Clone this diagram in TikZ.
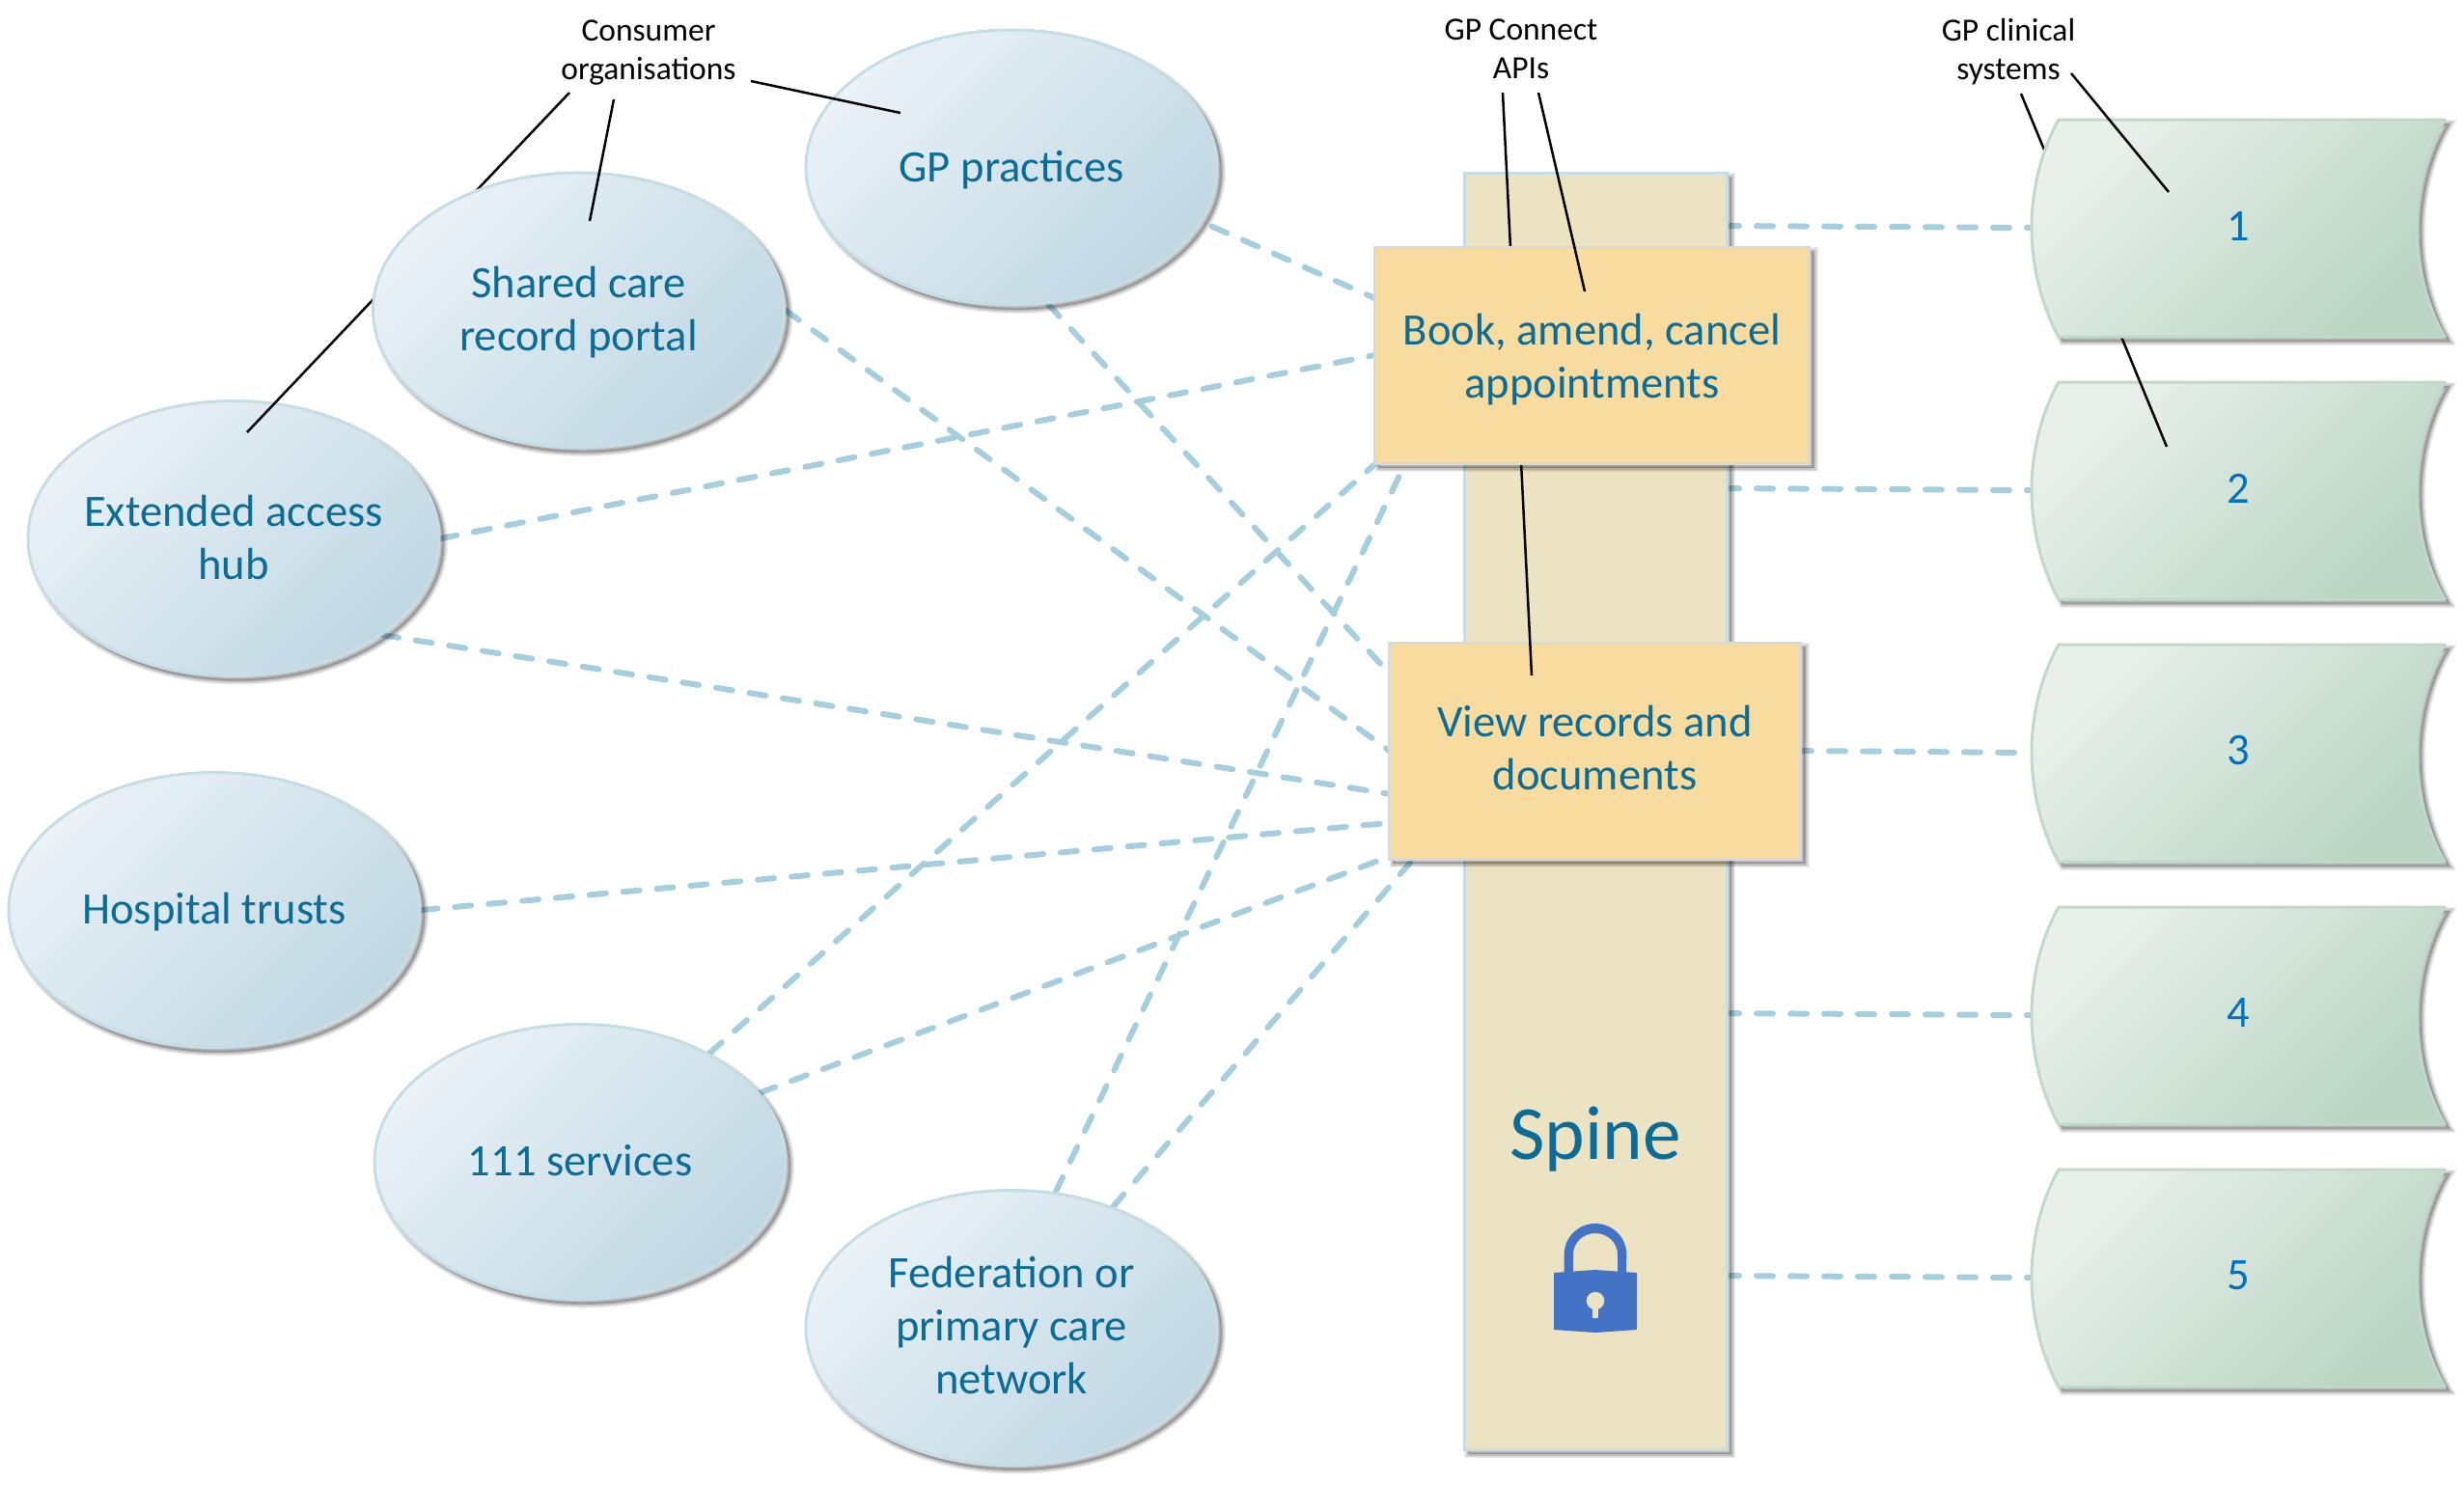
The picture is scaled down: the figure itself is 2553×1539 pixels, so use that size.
\documentclass[tikz,border=0pt]{standalone}
\usepackage{fontspec}
\setmainfont{Carlito}
\usetikzlibrary{shapes.geometric,shadows,backgrounds,calc}
\definecolor{txt}{HTML}{0B6C97}
\definecolor{numc}{HTML}{0070C0}
\definecolor{dashc}{HTML}{A5CFDF}
\definecolor{elL}{HTML}{EAF1F7}
\definecolor{elD}{HTML}{C0D8E3}
\definecolor{elS}{HTML}{C6DDE6}
\definecolor{stL}{HTML}{E9F0EB}
\definecolor{stD}{HTML}{BAD5C4}
\definecolor{stS}{HTML}{C0D9CA}
\definecolor{spF}{HTML}{EBE3C1}
\definecolor{apF}{HTML}{F8DB9F}
\definecolor{apS}{HTML}{D9D9D9}
\definecolor{lockc}{HTML}{4472C4}
\tikzset{
  softshadow/.style={
    general shadow={draw=black,line width=4.6pt,opacity=.06,shadow xshift=2.3pt,shadow yshift=-2.3pt},
    general shadow={draw=black,line width=3.4pt,opacity=.09,shadow xshift=2.3pt,shadow yshift=-2.3pt},
    general shadow={draw=black,line width=2.1pt,opacity=.11,shadow xshift=2.3pt,shadow yshift=-2.3pt},
    general shadow={draw=black,line width=.8pt,fill=black,opacity=.14,shadow xshift=2.3pt,shadow yshift=-2.3pt}},
  orgnode/.style={ellipse,softshadow,draw=elS,line width=1.5pt,top color=elL,bottom color=elD,shading angle=45,
    minimum width=213pt,minimum height=142.5pt,inner sep=0pt,text=txt,
    font=\fontsize{23.3}{27.5}\selectfont},
  apibox/.style={rectangle,softshadow,draw=apS,fill=apF,line width=1.5pt,inner sep=0pt,text=txt,
    font=\fontsize{23.3}{27.5}\selectfont},
  spinebox/.style={rectangle,softshadow,draw=elS,fill=spF,line width=1.5pt,inner sep=0pt},
  storedpath/.style={softshadow,draw=stS,line width=1.5pt,top color=stL,bottom color=stD,shading angle=45,line join=round},
  storedlabel/.style={minimum width=214pt,minimum height=113pt,inner sep=0pt,text=numc,font=\fontsize{23.3}{27.5}\selectfont},
  calloutlabel/.style={inner sep=0pt,align=center,text=black,font=\fontsize{16.75}{20}\selectfont},
  calloutline/.style={black,line width=1.25pt},
  linkline/.style={dashc,line width=3pt,line cap=round,dash pattern=on 8.5pt off 9pt}
}
% centred block of lines that does not affect the node's size; #1 raises it
\newcommand{\block}[2][0pt]{\makebox[0pt]{\raisebox{\dimexpr#1-8.2pt}[0pt][0pt]{\begin{tabular}{@{}c@{}}#2\end{tabular}}}}
\newcommand{\storedshape}[2]{%
  \path[storedpath] (2133,#1-112) -- (2533,#1-112)
     .. controls (2514,#1-80) and (2504,#1-40) .. (2504,#1)
     .. controls (2504,#1+40) and (2514,#1+80) .. (2533,#1+113)
     -- (2133,#1+113)
     .. controls (2115,#1+80) and (2105,#1+40) .. (2105,#1)
     .. controls (2105,#1-40) and (2115,#1-80) .. (2133,#1-112) -- cycle;
  \node[storedlabel] (s#2) at (2319,#1-2) {#2};}
\begin{document}
\begin{tikzpicture}[x=0.5pt,y=-0.5pt]
\useasboundingbox (0,0) rectangle (2553,1539);
% callout labels
\node[calloutlabel] (consumer) at (672,54) {Consumer\\organisations};
\node[calloutlabel] (gpconnect) at (1576,51) {GP Connect\\APIs};
\node[calloutlabel] (gpclinical) at (2081,54) {GP clinical\\systems};
\coordinate (ca) at (778,84);   \coordinate (cA) at (933,117);
\coordinate (cb) at (636,103);  \coordinate (cB) at (611,229);
\coordinate (cc) at (590,96);   \coordinate (cC) at (256,448);
\coordinate (ga) at (1557,96);  \coordinate (gA) at (1587,700);
\coordinate (gb) at (1594,96);  \coordinate (gB) at (1642,302);
\coordinate (ka) at (2146,76);  \coordinate (kA) at (2247,199);
\coordinate (kb) at (2094,97);  \coordinate (kB) at (2245,463);
% organisations, lower ones first
\node[orgnode] (ext) at (242,558) {\block{Extended access\\hub}};
\draw[calloutline] (cc) -- (cC);
\node[orgnode] (shared) at (599.5,321.5) {\block{Shared care\\record portal}};
\draw[calloutline] (cb) -- (cB);
\node[orgnode] (gp) at (1048,173.5) {\block{GP practices}};
\draw[calloutline] (ca) -- (cA);
\node[orgnode] (hosp) at (222,943) {\block{Hospital trusts}};
\node[orgnode] (one11) at (601,1204) {\block[.4pt]{111 services}};
\node[orgnode] (fed) at (1048,1376) {\block[.8pt]{Federation or\\primary care\\network}};
% spine
\node[spinebox,minimum width=136pt,minimum height=661.5pt] (spine) at (1653,840.5) {};
\node[inner sep=0pt,text=txt,font=\fontsize{39.6}{44}\selectfont] (spinetxt) at (1653,1181) {Spine};
% lock
\fill[lockc,even odd rule] (1620.7,1320) -- (1620.7,1300) arc[start angle=180,end angle=0,x radius=32.3,y radius=-32]
   -- (1685,1320) -- (1676,1320) -- (1676,1300) arc[start angle=0,end angle=180,x radius=23,y radius=-22] -- (1630,1320) -- cycle;
\fill[lockc] (1610,1319) -- (1653,1316) -- (1696,1319) -- (1696,1378) -- (1653,1381) -- (1610,1378) -- cycle;
\fill[spF] (1653,1348) circle[radius=4.6pt];
\fill[spF] (1650,1350) rectangle (1656,1366);
% API boxes
\node[apibox,minimum width=213pt,minimum height=112pt] (view) at (1652.5,778) {\block[.8pt]{View records and\\documents}};
\draw[calloutline] (ga) -- (gA);
\node[apibox,minimum width=225pt,minimum height=112pt] (book) at (1649.5,368) {\block[-1.2pt]{Book, amend, cancel\\appointments}};
\draw[calloutline] (gb) -- (gB);
% GP clinical systems
\storedshape{1324}{5}
\storedshape{1052}{4}
\storedshape{780}{3}
\storedshape{508}{2}
\draw[calloutline] (kb) -- (kB);
\storedshape{236}{1}
\draw[calloutline] (ka) -- (kA);
% connectors behind everything
\begin{pgfonlayer}{background}
\coordinate (b1) at (1445,318);
\coordinate (b2) at (1445,364);
\coordinate (b3) at (1445,463);
\coordinate (b4) at (1461,470);
\coordinate (v1) at (1460,720);
\coordinate (v2) at (1460,793);
\coordinate (v3) at (1460,826);
\coordinate (v4) at (1460,851);
\coordinate (v5) at (1460,880);
\coordinate (v6) at (1473,880);
\draw[linkline] ($(gp.-16.6)!5.7pt!(b1)$) -- (b1);
\draw[linkline] (gp.-75.9) -- (v1);
\draw[linkline] (shared.0) -- (v2);
\draw[linkline] (ext.0) -- (b2);
\draw[linkline] (ext.-33.6) -- (v3);
\draw[linkline] (hosp.0) -- (v4);
\draw[linkline] (one11.40) -- (b3);
\draw[linkline] (one11.21.5) -- (v5);
\draw[linkline] (fed.72) -- (b4);
\draw[linkline] (fed.50) -- (v6);
\coordinate (p1) at (1785,234);
\coordinate (p2) at (1785,506);
\coordinate (p3) at (1860,778);
\coordinate (p4) at (1785,1050);
\coordinate (p5) at (1785,1322);
\draw[linkline] (p1) -- ($(s1.west)+(0,2)$);
\draw[linkline] (p2) -- ($(s2.west)+(0,2)$);
\draw[linkline] (p3) -- ($(s3.west)+(0,2)$);
\draw[linkline] (p4) -- ($(s4.west)+(0,2)$);
\draw[linkline] (p5) -- ($(s5.west)+(0,2)$);
\end{pgfonlayer}
\end{tikzpicture}
\end{document}
